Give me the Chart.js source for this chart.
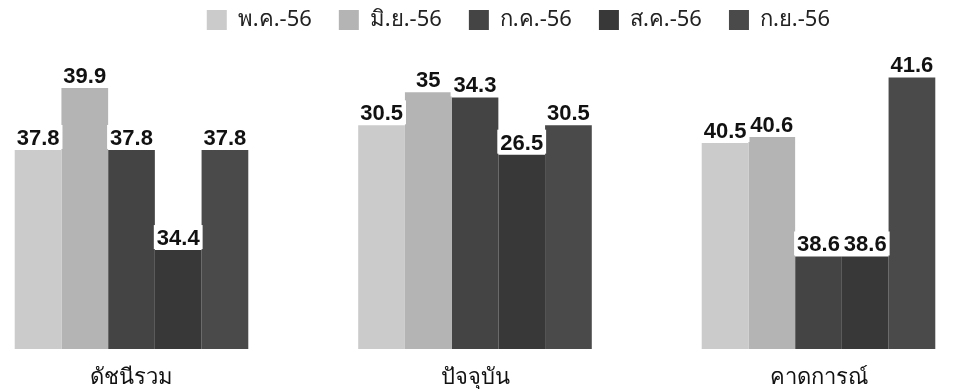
<!DOCTYPE html>
<html>
<head>
<meta charset="utf-8">
<script src="https://cdn.jsdelivr.net/npm/chart.js@4.4.0/dist/chart.umd.min.js"></script>
<style>
  html, body { margin: 0; padding: 0; background: #fff; }
  #wrap { width: 962px; height: 389px; }
</style>
</head>
<body>
<div id="wrap"><canvas id="chart" width="962" height="389"></canvas></div>
<script>
// Data
const categories = ['ดัชนีรวม', 'ปัจจุบัน', 'คาดการณ์'];
const months = ['พ.ค.-56', 'มิ.ย.-56', 'ก.ค.-56', 'ส.ค.-56', 'ก.ย.-56'];
const indexTotal = [37.8, 39.9, 37.8, 34.4, 37.8];
const indexNow = [30.5, 35, 34.3, 26.5, 30.5];
const indexForecast = [40.5, 40.6, 38.6, 38.6, 41.6];
// in the source each group is scaled on its own axis
const axisMin = [31.04, 0, 37.05];
const axisMax = [41.50, 42.0, 42.21];

const groups = [indexTotal, indexNow, indexForecast];
const colors = ['#cbcbcb', '#b4b4b4', '#444444', '#383838', '#4a4a4a'];

// one dataset per month per group, nulls skipped so each group has 5 slots
const datasets = [];
groups.forEach((vals, g) => {
    months.forEach((m, s) => {
        datasets.push({
            label: m,
            data: categories.map((c, i) => i === g ? vals[s] : null),
            yAxisID: 'y' + g,
            base: axisMin[g],
            backgroundColor: colors[s],
            borderWidth: 0,
            skipNull: true,
            clip: false,
            categoryPercentage: 0.68,
            barPercentage: 1
        });
    });
});

const scales = {
    x: {
        offset: false,
        grid: { display: false },
        border: { display: false },
        ticks: {
            color: '#111',
            padding: 8,
            font: { family: '"Noto Sans", sans-serif', size: 22 }
        },
        afterFit: s => { s.height = 40; }
    },
    // empty axis that only keeps the plot narrower than the legend
    spacer: {
        type: 'linear',
        position: 'right',
        ticks: { display: false },
        grid: { display: false },
        border: { display: false },
        afterFit: s => { s.width = 38.5; }
    }
};
axisMin.forEach((min, g) => {
    scales['y' + g] = { display: false, min: min, max: axisMax[g] };
});

// value labels with a white box behind them
const valueLabels = {
    id: 'valueLabels',
    afterDatasetsDraw(chart) {
        const ctx = chart.ctx;
        const items = [];
        ctx.save();
        ctx.font = 'bold 22px "Liberation Sans", Arial, sans-serif';
        chart.data.datasets.forEach((ds, i) => {
            chart.getDatasetMeta(i).data.forEach((bar, j) => {
                const v = ds.data[j];
                if (v === null || v === undefined) return;
                const text = String(v);
                items.push({ text, x: bar.x, y: bar.y - 5, w: ctx.measureText(text).width });
            });
        });
        ctx.fillStyle = '#fff';
        items.forEach(it => ctx.fillRect(it.x - it.w / 2 - 3, it.y - 20, it.w + 6, 24));
        ctx.fillStyle = '#111';
        ctx.textAlign = 'center';
        ctx.textBaseline = 'alphabetic';
        items.forEach(it => ctx.fillText(it.text, it.x, it.y));
        ctx.restore();
    }
};

new Chart(document.getElementById('chart').getContext('2d'), {
    type: 'bar',
    data: { labels: categories, datasets: datasets },
    options: {
        responsive: false,
        animation: false,
        layout: { padding: { left: 131.5, right: 105, top: -18, bottom: 0 } },
        plugins: {
            tooltip: { enabled: false },
            legend: {
                position: 'top',
                align: 'end',
                labels: {
                    boxWidth: 20,
                    boxHeight: 20,
                    padding: 27,
                    color: '#222',
                    font: { family: '"Noto Sans", sans-serif', size: 22 },
                    filter: item => item.datasetIndex < months.length
                }
            }
        },
        scales: scales
    },
    plugins: [valueLabels]
});
</script>
</body>
</html>
